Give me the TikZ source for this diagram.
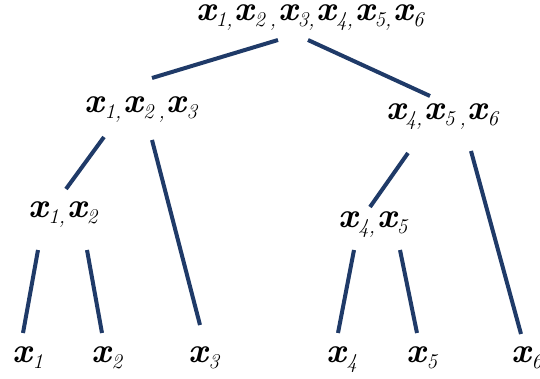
\documentclass[tikz,border=0pt]{standalone}
\usepackage{fontspec}
\usepackage{tikz}
\definecolor{navy}{HTML}{1F3A68}
\newcommand{\xs}[1]{{\bfseries\itshape x}\raisebox{-6pt}{\fontsize{21}{21}\selectfont\itshape #1}}

\begin{document}
\begin{tikzpicture}[x=1pt,y=-1pt,
  lbl/.style={inner sep=0pt,anchor=base,font=\fontsize{35}{40}\selectfont},
  edge/.style={navy,line width=4pt}]
  \useasboundingbox (0,0) rectangle (540,379);
  % splits of the set, top to bottom
  \node[lbl] (all) at (310,21) {\xs{1,}\hspace{2pt}\xs{2\hspace{5pt},}\hspace{2pt}\xs{3,}\hspace{2pt}\xs{4,}\hspace{2pt}\xs{5,}\hspace{2pt}\xs{6}};
  \node[lbl] (abc) at (141,113) {\xs{1,}\hspace{2pt}\xs{2\hspace{5pt},}\hspace{2pt}\xs{3}};
  \node[lbl] (def) at (442,120) {\xs{4,}\hspace{2pt}\xs{5\hspace{5pt},}\hspace{2pt}\xs{6}};
  \node[lbl] (ab) at (63,218) {\xs{1,}\hspace{2pt}\xs{2}};
  \node[lbl] (de) at (373,227) {\xs{4,}\hspace{2pt}\xs{5}};
  \foreach \i/\x in {1/28,2/107,3/204,4/342,5/422,6/527}{
    \node[lbl] (x\i) at (\x,362) {\xs{\i}};}
  % branch ends (the branches stop short of the labels)
  \coordinate (all-l) at (278,40);  \coordinate (abc-t) at (152,78);
  \coordinate (all-r) at (308,40);  \coordinate (def-t) at (430,96);
  \coordinate (abc-l) at (104,137); \coordinate (ab-t) at (66,189);
  \coordinate (abc-r) at (152,140); \coordinate (x3-t) at (200,325);
  \coordinate (def-l) at (408,153); \coordinate (de-t) at (370,207);
  \coordinate (def-r) at (471,151); \coordinate (x6-t) at (521,334);
  \coordinate (ab-l) at (38,250);   \coordinate (x1-t) at (23,333);
  \coordinate (ab-r) at (87,250);   \coordinate (x2-t) at (102,333);
  \coordinate (de-l) at (354,250);  \coordinate (x4-t) at (338,333);
  \coordinate (de-r) at (400,250);  \coordinate (x5-t) at (417,333);
  \foreach \a/\b in {all-l/abc-t,all-r/def-t,abc-l/ab-t,abc-r/x3-t,def-l/de-t,
                     def-r/x6-t,ab-l/x1-t,ab-r/x2-t,de-l/x4-t,de-r/x5-t}{
    \draw[edge] (\a) -- (\b);}
\end{tikzpicture}
\end{document}
